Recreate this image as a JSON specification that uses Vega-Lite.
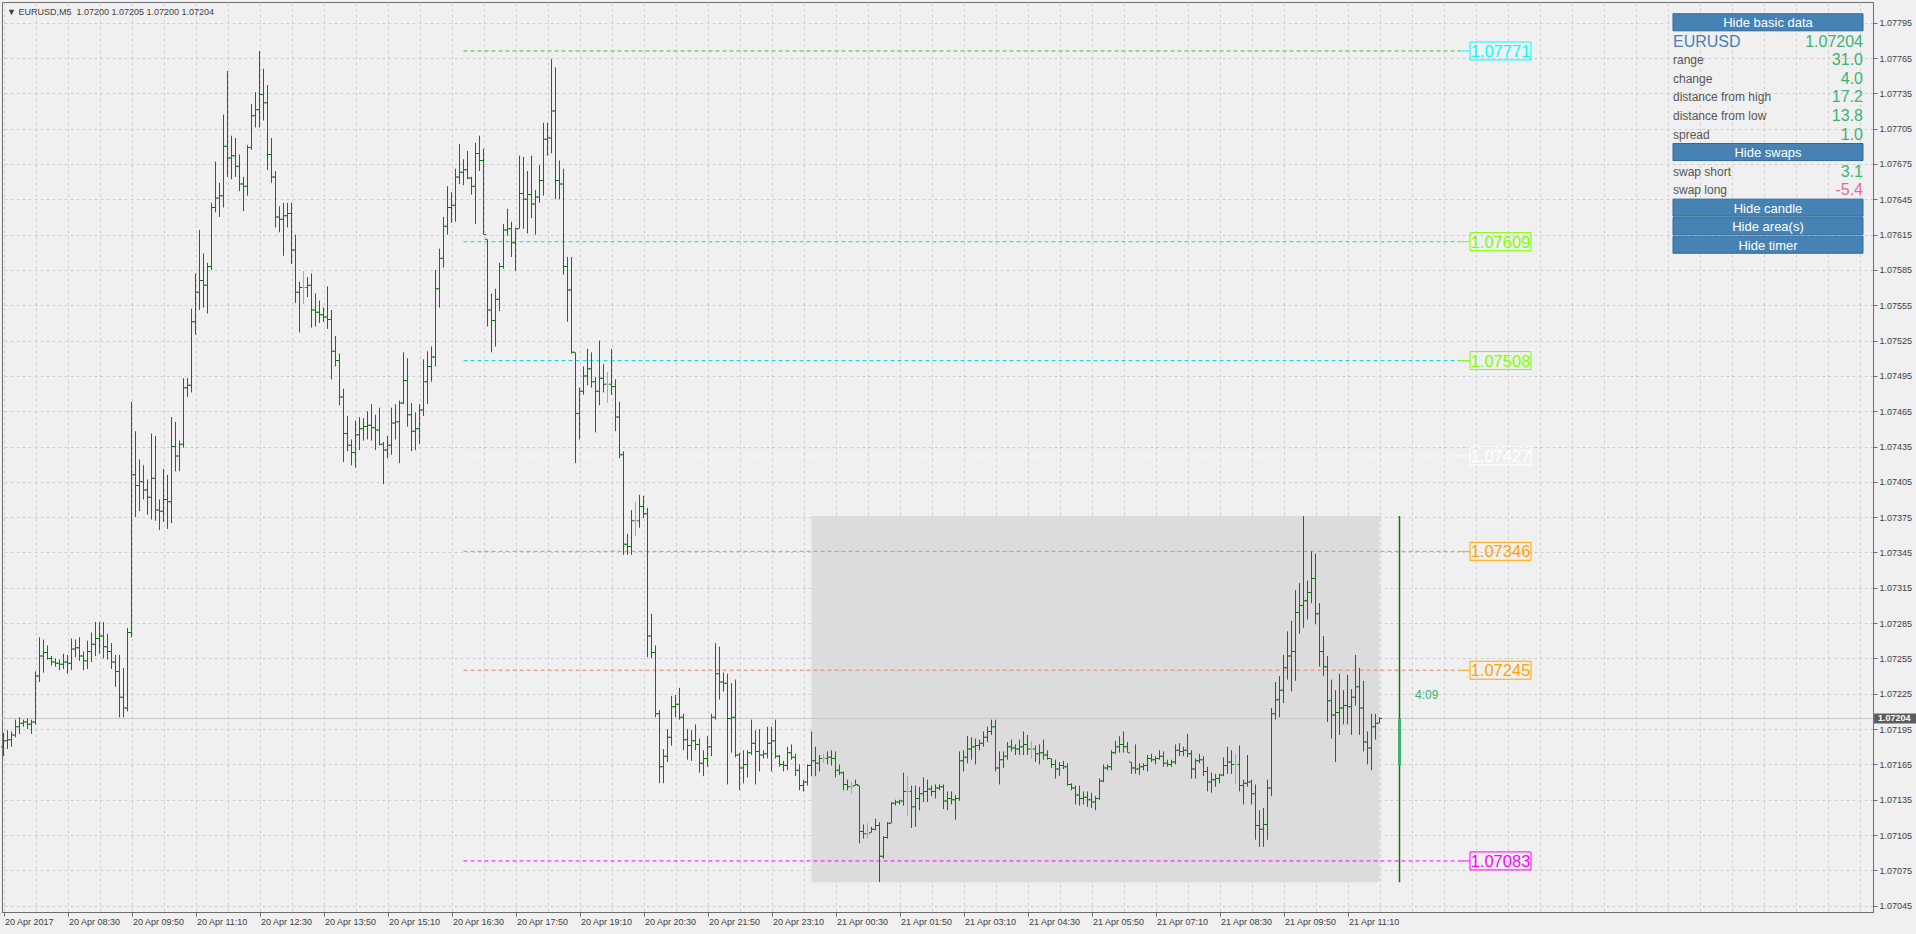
{
"$schema":"https://vega.github.io/schema/vega-lite/v6.json",
"width":1871,"height":910,
"autosize":"none",
"padding":{"left":2,"top":2,"right":43,"bottom":22},
"background":"#f0f0f0",
"config":{"font":"Liberation Sans","view":{"stroke":"#6e6e6e","strokeWidth":1},"axis":{"labelOverlap":false}},
"title":{"text":"▼ EURUSD,M5\u00a0 1.07200 1.07205 1.07200 1.07204","anchor":"start","frame":"group","orient":"top","offset":-19,"baseline":"middle","fontSize":9,"fontWeight":"normal","color":"#404040","font":"Liberation Sans","dx":5},
"datasets":{
"area":[{"from":"2017-04-21T00:00Z","to":"2017-04-21T11:50Z","high":1.07376,"low":1.07065}],
"daily":[{"t":"2017-04-21T12:15Z","o":1.07164,"h":1.07376,"l":1.07065,"c":1.07204}],
"levels":[{"name":"h1","price":1.07771},{"name":"r2","price":1.07609},{"name":"r1","price":1.07508},{"name":"p","price":1.07427},{"name":"s1","price":1.07346},{"name":"s2","price":1.07245},{"name":"l1","price":1.07083}],
"panel":[{"row":0,"kind":"button","label":"Hide basic data"},{"row":1,"kind":"symbol","label":"EURUSD","value":"1.07204"},{"row":2,"kind":"stat","label":"range","value":"31.0"},{"row":3,"kind":"stat","label":"change","value":"4.0"},{"row":4,"kind":"stat","label":"distance from high","value":"17.2"},{"row":5,"kind":"stat","label":"distance from low","value":"13.8"},{"row":6,"kind":"stat","label":"spread","value":"1.0"},{"row":7,"kind":"button","label":"Hide swaps"},{"row":8,"kind":"stat","label":"swap short","value":"3.1"},{"row":9,"kind":"neg","label":"swap long","value":"-5.4"},{"row":10,"kind":"button","label":"Hide candle"},{"row":11,"kind":"button","label":"Hide area(s)"},{"row":12,"kind":"button","label":"Hide timer"}],
"bars":[
{"t":"2017-04-20T07:10Z","o":1.07180,"h":1.07192,"l":1.07172,"c":1.07185},
{"t":"2017-04-20T07:15Z","o":1.07185,"h":1.07194,"l":1.07178,"c":1.07186},
{"t":"2017-04-20T07:20Z","o":1.07186,"h":1.07193,"l":1.07180,"c":1.07190},
{"t":"2017-04-20T07:25Z","o":1.07190,"h":1.07203,"l":1.07188,"c":1.07197},
{"t":"2017-04-20T07:30Z","o":1.07197,"h":1.07205,"l":1.07191,"c":1.07200},
{"t":"2017-04-20T07:35Z","o":1.07200,"h":1.07203,"l":1.07197,"c":1.07201},
{"t":"2017-04-20T07:40Z","o":1.07201,"h":1.07204,"l":1.07195,"c":1.07199},
{"t":"2017-04-20T07:45Z","o":1.07199,"h":1.07203,"l":1.07191,"c":1.07201},
{"t":"2017-04-20T07:50Z","o":1.07201,"h":1.07244,"l":1.07199,"c":1.07240},
{"t":"2017-04-20T07:55Z","o":1.07240,"h":1.07273,"l":1.07235,"c":1.07257},
{"t":"2017-04-20T08:00Z","o":1.07257,"h":1.07271,"l":1.07243,"c":1.07260},
{"t":"2017-04-20T08:05Z","o":1.07260,"h":1.07266,"l":1.07254,"c":1.07255},
{"t":"2017-04-20T08:10Z","o":1.07255,"h":1.07257,"l":1.07249,"c":1.07252},
{"t":"2017-04-20T08:15Z","o":1.07252,"h":1.07255,"l":1.07248,"c":1.07251},
{"t":"2017-04-20T08:20Z","o":1.07251,"h":1.07254,"l":1.07245,"c":1.07250},
{"t":"2017-04-20T08:25Z","o":1.07250,"h":1.07259,"l":1.07246,"c":1.07252},
{"t":"2017-04-20T08:30Z","o":1.07252,"h":1.07258,"l":1.07242,"c":1.07251},
{"t":"2017-04-20T08:35Z","o":1.07251,"h":1.07272,"l":1.07245,"c":1.07263},
{"t":"2017-04-20T08:40Z","o":1.07263,"h":1.07271,"l":1.07256,"c":1.07264},
{"t":"2017-04-20T08:45Z","o":1.07264,"h":1.07273,"l":1.07253,"c":1.07257},
{"t":"2017-04-20T08:50Z","o":1.07257,"h":1.07261,"l":1.07245,"c":1.07253},
{"t":"2017-04-20T08:55Z","o":1.07253,"h":1.07270,"l":1.07246,"c":1.07261},
{"t":"2017-04-20T09:00Z","o":1.07261,"h":1.07277,"l":1.07252,"c":1.07267},
{"t":"2017-04-20T09:05Z","o":1.07267,"h":1.07286,"l":1.07257,"c":1.07272},
{"t":"2017-04-20T09:10Z","o":1.07272,"h":1.07286,"l":1.07259,"c":1.07274},
{"t":"2017-04-20T09:15Z","o":1.07274,"h":1.07286,"l":1.07255,"c":1.07265},
{"t":"2017-04-20T09:20Z","o":1.07265,"h":1.07276,"l":1.07254,"c":1.07261},
{"t":"2017-04-20T09:25Z","o":1.07261,"h":1.07268,"l":1.07246,"c":1.07252},
{"t":"2017-04-20T09:30Z","o":1.07252,"h":1.07258,"l":1.07231,"c":1.07244},
{"t":"2017-04-20T09:35Z","o":1.07244,"h":1.07258,"l":1.07205,"c":1.07222},
{"t":"2017-04-20T09:40Z","o":1.07222,"h":1.07247,"l":1.07205,"c":1.07213},
{"t":"2017-04-20T09:45Z","o":1.07213,"h":1.07281,"l":1.07210,"c":1.07277},
{"t":"2017-04-20T09:50Z","o":1.07277,"h":1.07473,"l":1.07273,"c":1.07411},
{"t":"2017-04-20T09:55Z","o":1.07411,"h":1.07448,"l":1.07375,"c":1.07402},
{"t":"2017-04-20T10:00Z","o":1.07402,"h":1.07424,"l":1.07380,"c":1.07405},
{"t":"2017-04-20T10:05Z","o":1.07405,"h":1.07419,"l":1.07390,"c":1.07398},
{"t":"2017-04-20T10:10Z","o":1.07398,"h":1.07407,"l":1.07377,"c":1.07392},
{"t":"2017-04-20T10:15Z","o":1.07392,"h":1.07446,"l":1.07373,"c":1.07408},
{"t":"2017-04-20T10:20Z","o":1.07408,"h":1.07444,"l":1.07372,"c":1.07381},
{"t":"2017-04-20T10:25Z","o":1.07381,"h":1.07390,"l":1.07364,"c":1.07380},
{"t":"2017-04-20T10:30Z","o":1.07380,"h":1.07416,"l":1.07371,"c":1.07390},
{"t":"2017-04-20T10:35Z","o":1.07390,"h":1.07411,"l":1.07365,"c":1.07388},
{"t":"2017-04-20T10:40Z","o":1.07388,"h":1.07460,"l":1.07370,"c":1.07435},
{"t":"2017-04-20T10:45Z","o":1.07435,"h":1.07456,"l":1.07414,"c":1.07427},
{"t":"2017-04-20T10:50Z","o":1.07427,"h":1.07440,"l":1.07414,"c":1.07437},
{"t":"2017-04-20T10:55Z","o":1.07437,"h":1.07493,"l":1.07434,"c":1.07485},
{"t":"2017-04-20T11:00Z","o":1.07485,"h":1.07493,"l":1.07477,"c":1.07487},
{"t":"2017-04-20T11:05Z","o":1.07487,"h":1.07552,"l":1.07481,"c":1.07541},
{"t":"2017-04-20T11:10Z","o":1.07541,"h":1.07582,"l":1.07530,"c":1.07566},
{"t":"2017-04-20T11:15Z","o":1.07566,"h":1.07619,"l":1.07551,"c":1.07576},
{"t":"2017-04-20T11:20Z","o":1.07576,"h":1.07599,"l":1.07553,"c":1.07572},
{"t":"2017-04-20T11:25Z","o":1.07572,"h":1.07591,"l":1.07548,"c":1.07588},
{"t":"2017-04-20T11:30Z","o":1.07588,"h":1.07642,"l":1.07585,"c":1.07638},
{"t":"2017-04-20T11:35Z","o":1.07638,"h":1.07677,"l":1.07634,"c":1.07646},
{"t":"2017-04-20T11:40Z","o":1.07646,"h":1.07659,"l":1.07630,"c":1.07648},
{"t":"2017-04-20T11:45Z","o":1.07648,"h":1.07717,"l":1.07638,"c":1.07690},
{"t":"2017-04-20T11:50Z","o":1.07690,"h":1.07754,"l":1.07664,"c":1.07680},
{"t":"2017-04-20T11:55Z","o":1.07680,"h":1.07699,"l":1.07662,"c":1.07682},
{"t":"2017-04-20T12:00Z","o":1.07682,"h":1.07697,"l":1.07664,"c":1.07673},
{"t":"2017-04-20T12:05Z","o":1.07673,"h":1.07683,"l":1.07652,"c":1.07658},
{"t":"2017-04-20T12:10Z","o":1.07658,"h":1.07664,"l":1.07635,"c":1.07656},
{"t":"2017-04-20T12:15Z","o":1.07656,"h":1.07691,"l":1.07648,"c":1.07689},
{"t":"2017-04-20T12:20Z","o":1.07689,"h":1.07726,"l":1.07687,"c":1.07716},
{"t":"2017-04-20T12:25Z","o":1.07716,"h":1.07736,"l":1.07706,"c":1.07721},
{"t":"2017-04-20T12:30Z","o":1.07721,"h":1.07771,"l":1.07706,"c":1.07734},
{"t":"2017-04-20T12:35Z","o":1.07734,"h":1.07756,"l":1.07712,"c":1.07727},
{"t":"2017-04-20T12:40Z","o":1.07727,"h":1.07742,"l":1.07670,"c":1.07683},
{"t":"2017-04-20T12:45Z","o":1.07683,"h":1.07697,"l":1.07659,"c":1.07664},
{"t":"2017-04-20T12:50Z","o":1.07664,"h":1.07669,"l":1.07621,"c":1.07630},
{"t":"2017-04-20T12:55Z","o":1.07630,"h":1.07639,"l":1.07617,"c":1.07628},
{"t":"2017-04-20T13:00Z","o":1.07628,"h":1.07642,"l":1.07597,"c":1.07631},
{"t":"2017-04-20T13:05Z","o":1.07631,"h":1.07642,"l":1.07621,"c":1.07633},
{"t":"2017-04-20T13:10Z","o":1.07633,"h":1.07642,"l":1.07590,"c":1.07602},
{"t":"2017-04-20T13:15Z","o":1.07602,"h":1.07615,"l":1.07557,"c":1.07566},
{"t":"2017-04-20T13:20Z","o":1.07566,"h":1.07575,"l":1.07532,"c":1.07570},
{"t":"2017-04-20T13:25Z","o":1.07570,"h":1.07584,"l":1.07556,"c":1.07570},
{"t":"2017-04-20T13:30Z","o":1.07570,"h":1.07579,"l":1.07562,"c":1.07572},
{"t":"2017-04-20T13:35Z","o":1.07572,"h":1.07582,"l":1.07536,"c":1.07551},
{"t":"2017-04-20T13:40Z","o":1.07551,"h":1.07565,"l":1.07537,"c":1.07549},
{"t":"2017-04-20T13:45Z","o":1.07549,"h":1.07559,"l":1.07540,"c":1.07547},
{"t":"2017-04-20T13:50Z","o":1.07547,"h":1.07553,"l":1.07541,"c":1.07545},
{"t":"2017-04-20T13:55Z","o":1.07545,"h":1.07571,"l":1.07535,"c":1.07543},
{"t":"2017-04-20T14:00Z","o":1.07543,"h":1.07551,"l":1.07492,"c":1.07516},
{"t":"2017-04-20T14:05Z","o":1.07516,"h":1.07529,"l":1.07503,"c":1.07508},
{"t":"2017-04-20T14:10Z","o":1.07508,"h":1.07514,"l":1.07470,"c":1.07477},
{"t":"2017-04-20T14:15Z","o":1.07477,"h":1.07484,"l":1.07422,"c":1.07446},
{"t":"2017-04-20T14:20Z","o":1.07446,"h":1.07461,"l":1.07431,"c":1.07436},
{"t":"2017-04-20T14:25Z","o":1.07436,"h":1.07441,"l":1.07419,"c":1.07430},
{"t":"2017-04-20T14:30Z","o":1.07430,"h":1.07457,"l":1.07417,"c":1.07445},
{"t":"2017-04-20T14:35Z","o":1.07445,"h":1.07460,"l":1.07432,"c":1.07450},
{"t":"2017-04-20T14:40Z","o":1.07450,"h":1.07459,"l":1.07440,"c":1.07452},
{"t":"2017-04-20T14:45Z","o":1.07452,"h":1.07465,"l":1.07441,"c":1.07453},
{"t":"2017-04-20T14:50Z","o":1.07453,"h":1.07471,"l":1.07440,"c":1.07451},
{"t":"2017-04-20T14:55Z","o":1.07451,"h":1.07462,"l":1.07432,"c":1.07449},
{"t":"2017-04-20T15:00Z","o":1.07449,"h":1.07468,"l":1.07436,"c":1.07437},
{"t":"2017-04-20T15:05Z","o":1.07437,"h":1.07439,"l":1.07403,"c":1.07432},
{"t":"2017-04-20T15:10Z","o":1.07432,"h":1.07444,"l":1.07425,"c":1.07436},
{"t":"2017-04-20T15:15Z","o":1.07436,"h":1.07468,"l":1.07428,"c":1.07455},
{"t":"2017-04-20T15:20Z","o":1.07455,"h":1.07471,"l":1.07441,"c":1.07456},
{"t":"2017-04-20T15:25Z","o":1.07456,"h":1.07474,"l":1.07421,"c":1.07472},
{"t":"2017-04-20T15:30Z","o":1.07472,"h":1.07515,"l":1.07471,"c":1.07491},
{"t":"2017-04-20T15:35Z","o":1.07491,"h":1.07510,"l":1.07452,"c":1.07462},
{"t":"2017-04-20T15:40Z","o":1.07462,"h":1.07472,"l":1.07431,"c":1.07448},
{"t":"2017-04-20T15:45Z","o":1.07448,"h":1.07464,"l":1.07432,"c":1.07450},
{"t":"2017-04-20T15:50Z","o":1.07450,"h":1.07471,"l":1.07437,"c":1.07466},
{"t":"2017-04-20T15:55Z","o":1.07466,"h":1.07509,"l":1.07461,"c":1.07490},
{"t":"2017-04-20T16:00Z","o":1.07490,"h":1.07516,"l":1.07471,"c":1.07503},
{"t":"2017-04-20T16:05Z","o":1.07503,"h":1.07520,"l":1.07490,"c":1.07511},
{"t":"2017-04-20T16:10Z","o":1.07511,"h":1.07585,"l":1.07503,"c":1.07569},
{"t":"2017-04-20T16:15Z","o":1.07569,"h":1.07603,"l":1.07553,"c":1.07595},
{"t":"2017-04-20T16:20Z","o":1.07595,"h":1.07630,"l":1.07587,"c":1.07622},
{"t":"2017-04-20T16:25Z","o":1.07622,"h":1.07656,"l":1.07615,"c":1.07638},
{"t":"2017-04-20T16:30Z","o":1.07638,"h":1.07651,"l":1.07625,"c":1.07640},
{"t":"2017-04-20T16:35Z","o":1.07640,"h":1.07671,"l":1.07626,"c":1.07664},
{"t":"2017-04-20T16:40Z","o":1.07664,"h":1.07692,"l":1.07658,"c":1.07668},
{"t":"2017-04-20T16:45Z","o":1.07668,"h":1.07679,"l":1.07657,"c":1.07670},
{"t":"2017-04-20T16:50Z","o":1.07670,"h":1.07686,"l":1.07662,"c":1.07663},
{"t":"2017-04-20T16:55Z","o":1.07663,"h":1.07664,"l":1.07649,"c":1.07656},
{"t":"2017-04-20T17:00Z","o":1.07656,"h":1.07693,"l":1.07624,"c":1.07684},
{"t":"2017-04-20T17:05Z","o":1.07684,"h":1.07699,"l":1.07669,"c":1.07678},
{"t":"2017-04-20T17:10Z","o":1.07678,"h":1.07688,"l":1.07615,"c":1.07615},
{"t":"2017-04-20T17:15Z","o":1.07611,"h":1.07611,"l":1.07537,"c":1.07551},
{"t":"2017-04-20T17:20Z","o":1.07551,"h":1.07565,"l":1.07515,"c":1.07542},
{"t":"2017-04-20T17:25Z","o":1.07542,"h":1.07569,"l":1.07520,"c":1.07560},
{"t":"2017-04-20T17:30Z","o":1.07560,"h":1.07591,"l":1.07550,"c":1.07588},
{"t":"2017-04-20T17:35Z","o":1.07588,"h":1.07624,"l":1.07586,"c":1.07619},
{"t":"2017-04-20T17:40Z","o":1.07619,"h":1.07637,"l":1.07614,"c":1.07620},
{"t":"2017-04-20T17:45Z","o":1.07620,"h":1.07626,"l":1.07596,"c":1.07608},
{"t":"2017-04-20T17:50Z","o":1.07608,"h":1.07621,"l":1.07584,"c":1.07620},
{"t":"2017-04-20T17:55Z","o":1.07620,"h":1.07682,"l":1.07620,"c":1.07650},
{"t":"2017-04-20T18:00Z","o":1.07650,"h":1.07681,"l":1.07620,"c":1.07645},
{"t":"2017-04-20T18:05Z","o":1.07645,"h":1.07669,"l":1.07616,"c":1.07649},
{"t":"2017-04-20T18:10Z","o":1.07649,"h":1.07682,"l":1.07629,"c":1.07641},
{"t":"2017-04-20T18:15Z","o":1.07641,"h":1.07653,"l":1.07615,"c":1.07647},
{"t":"2017-04-20T18:20Z","o":1.07647,"h":1.07674,"l":1.07642,"c":1.07661},
{"t":"2017-04-20T18:25Z","o":1.07661,"h":1.07710,"l":1.07648,"c":1.07696},
{"t":"2017-04-20T18:30Z","o":1.07696,"h":1.07710,"l":1.07682,"c":1.07697},
{"t":"2017-04-20T18:35Z","o":1.07697,"h":1.07764,"l":1.07684,"c":1.07720},
{"t":"2017-04-20T18:40Z","o":1.07720,"h":1.07757,"l":1.07645,"c":1.07661},
{"t":"2017-04-20T18:45Z","o":1.07661,"h":1.07678,"l":1.07645,"c":1.07658},
{"t":"2017-04-20T18:50Z","o":1.07658,"h":1.07671,"l":1.07581,"c":1.07588},
{"t":"2017-04-20T18:55Z","o":1.07588,"h":1.07596,"l":1.07541,"c":1.07568},
{"t":"2017-04-20T19:00Z","o":1.07568,"h":1.07596,"l":1.07514,"c":1.07515},
{"t":"2017-04-20T19:05Z","o":1.07515,"h":1.07515,"l":1.07421,"c":1.07463},
{"t":"2017-04-20T19:10Z","o":1.07463,"h":1.07485,"l":1.07441,"c":1.07482},
{"t":"2017-04-20T19:15Z","o":1.07482,"h":1.07503,"l":1.07479,"c":1.07495},
{"t":"2017-04-20T19:20Z","o":1.07495,"h":1.07518,"l":1.07487,"c":1.07501},
{"t":"2017-04-20T19:25Z","o":1.07501,"h":1.07515,"l":1.07485,"c":1.07490},
{"t":"2017-04-20T19:30Z","o":1.07490,"h":1.07494,"l":1.07447,"c":1.07482},
{"t":"2017-04-20T19:35Z","o":1.07482,"h":1.07525,"l":1.07470,"c":1.07493},
{"t":"2017-04-20T19:40Z","o":1.07493,"h":1.07505,"l":1.07481,"c":1.07488},
{"t":"2017-04-20T19:45Z","o":1.07488,"h":1.07498,"l":1.07472,"c":1.07488},
{"t":"2017-04-20T19:50Z","o":1.07488,"h":1.07518,"l":1.07479,"c":1.07486},
{"t":"2017-04-20T19:55Z","o":1.07486,"h":1.07492,"l":1.07448,"c":1.07460},
{"t":"2017-04-20T20:00Z","o":1.07460,"h":1.07473,"l":1.07425,"c":1.07428},
{"t":"2017-04-20T20:05Z","o":1.07428,"h":1.07431,"l":1.07343,"c":1.07352},
{"t":"2017-04-20T20:10Z","o":1.07352,"h":1.07361,"l":1.07343,"c":1.07350},
{"t":"2017-04-20T20:15Z","o":1.07350,"h":1.07381,"l":1.07343,"c":1.07372},
{"t":"2017-04-20T20:20Z","o":1.07372,"h":1.07388,"l":1.07359,"c":1.07372},
{"t":"2017-04-20T20:25Z","o":1.07372,"h":1.07394,"l":1.07366,"c":1.07384},
{"t":"2017-04-20T20:30Z","o":1.07384,"h":1.07393,"l":1.07374,"c":1.07378},
{"t":"2017-04-20T20:35Z","o":1.07378,"h":1.07383,"l":1.07256,"c":1.07274},
{"t":"2017-04-20T20:40Z","o":1.07274,"h":1.07293,"l":1.07255,"c":1.07260},
{"t":"2017-04-20T20:45Z","o":1.07260,"h":1.07266,"l":1.07205,"c":1.07208},
{"t":"2017-04-20T20:50Z","o":1.07208,"h":1.07211,"l":1.07149,"c":1.07163},
{"t":"2017-04-20T20:55Z","o":1.07163,"h":1.07178,"l":1.07149,"c":1.07172},
{"t":"2017-04-20T21:00Z","o":1.07172,"h":1.07195,"l":1.07167,"c":1.07188},
{"t":"2017-04-20T21:05Z","o":1.07188,"h":1.07223,"l":1.07181,"c":1.07214},
{"t":"2017-04-20T21:10Z","o":1.07214,"h":1.07224,"l":1.07205,"c":1.07216},
{"t":"2017-04-20T21:15Z","o":1.07216,"h":1.07230,"l":1.07203,"c":1.07205},
{"t":"2017-04-20T21:20Z","o":1.07205,"h":1.07208,"l":1.07177,"c":1.07186},
{"t":"2017-04-20T21:25Z","o":1.07186,"h":1.07195,"l":1.07169,"c":1.07181},
{"t":"2017-04-20T21:30Z","o":1.07181,"h":1.07194,"l":1.07168,"c":1.07185},
{"t":"2017-04-20T21:35Z","o":1.07185,"h":1.07199,"l":1.07177,"c":1.07182},
{"t":"2017-04-20T21:40Z","o":1.07182,"h":1.07187,"l":1.07158,"c":1.07166},
{"t":"2017-04-20T21:45Z","o":1.07166,"h":1.07177,"l":1.07155,"c":1.07170},
{"t":"2017-04-20T21:50Z","o":1.07170,"h":1.07189,"l":1.07163,"c":1.07180},
{"t":"2017-04-20T21:55Z","o":1.07180,"h":1.07208,"l":1.07172,"c":1.07205},
{"t":"2017-04-20T22:00Z","o":1.07205,"h":1.07268,"l":1.07203,"c":1.07242},
{"t":"2017-04-20T22:05Z","o":1.07242,"h":1.07265,"l":1.07220,"c":1.07235},
{"t":"2017-04-20T22:10Z","o":1.07235,"h":1.07243,"l":1.07227,"c":1.07234},
{"t":"2017-04-20T22:15Z","o":1.07234,"h":1.07242,"l":1.07148,"c":1.07204},
{"t":"2017-04-20T22:20Z","o":1.07204,"h":1.07234,"l":1.07175,"c":1.07205},
{"t":"2017-04-20T22:25Z","o":1.07205,"h":1.07237,"l":1.07171,"c":1.07173},
{"t":"2017-04-20T22:30Z","o":1.07173,"h":1.07175,"l":1.07143,"c":1.07162},
{"t":"2017-04-20T22:35Z","o":1.07162,"h":1.07177,"l":1.07149,"c":1.07165},
{"t":"2017-04-20T22:40Z","o":1.07165,"h":1.07177,"l":1.07154,"c":1.07175},
{"t":"2017-04-20T22:45Z","o":1.07175,"h":1.07203,"l":1.07173,"c":1.07183},
{"t":"2017-04-20T22:50Z","o":1.07183,"h":1.07194,"l":1.07148,"c":1.07176},
{"t":"2017-04-20T22:55Z","o":1.07176,"h":1.07195,"l":1.07159,"c":1.07173},
{"t":"2017-04-20T23:00Z","o":1.07173,"h":1.07177,"l":1.07170,"c":1.07174},
{"t":"2017-04-20T23:05Z","o":1.07174,"h":1.07197,"l":1.07170,"c":1.07183},
{"t":"2017-04-20T23:10Z","o":1.07183,"h":1.07197,"l":1.07159,"c":1.07185},
{"t":"2017-04-20T23:15Z","o":1.07185,"h":1.07203,"l":1.07170,"c":1.07172},
{"t":"2017-04-20T23:20Z","o":1.07172,"h":1.07173,"l":1.07163,"c":1.07165},
{"t":"2017-04-20T23:25Z","o":1.07165,"h":1.07168,"l":1.07159,"c":1.07164},
{"t":"2017-04-20T23:30Z","o":1.07164,"h":1.07180,"l":1.07160,"c":1.07175},
{"t":"2017-04-20T23:35Z","o":1.07175,"h":1.07182,"l":1.07169,"c":1.07171},
{"t":"2017-04-20T23:40Z","o":1.07171,"h":1.07174,"l":1.07155,"c":1.07160},
{"t":"2017-04-20T23:45Z","o":1.07160,"h":1.07165,"l":1.07143,"c":1.07147},
{"t":"2017-04-20T23:50Z","o":1.07147,"h":1.07152,"l":1.07142,"c":1.07150},
{"t":"2017-04-20T23:55Z","o":1.07150,"h":1.07165,"l":1.07147,"c":1.07164},
{"t":"2017-04-21T00:00Z","o":1.07164,"h":1.07193,"l":1.07155,"c":1.07168},
{"t":"2017-04-21T00:05Z","o":1.07168,"h":1.07180,"l":1.07155,"c":1.07166},
{"t":"2017-04-21T00:10Z","o":1.07166,"h":1.07173,"l":1.07159,"c":1.07170},
{"t":"2017-04-21T00:15Z","o":1.07170,"h":1.07174,"l":1.07166,"c":1.07170},
{"t":"2017-04-21T00:20Z","o":1.07170,"h":1.07176,"l":1.07165,"c":1.07171},
{"t":"2017-04-21T00:25Z","o":1.07171,"h":1.07177,"l":1.07164,"c":1.07170},
{"t":"2017-04-21T00:30Z","o":1.07170,"h":1.07176,"l":1.07154,"c":1.07160},
{"t":"2017-04-21T00:35Z","o":1.07160,"h":1.07165,"l":1.07156,"c":1.07158},
{"t":"2017-04-21T00:40Z","o":1.07158,"h":1.07159,"l":1.07143,"c":1.07148},
{"t":"2017-04-21T00:45Z","o":1.07148,"h":1.07152,"l":1.07143,"c":1.07146},
{"t":"2017-04-21T00:50Z","o":1.07146,"h":1.07150,"l":1.07140,"c":1.07146},
{"t":"2017-04-21T00:55Z","o":1.07147,"h":1.07152,"l":1.07147,"c":1.07148},
{"t":"2017-04-21T01:00Z","o":1.07147,"h":1.07147,"l":1.07098,"c":1.07108},
{"t":"2017-04-21T01:05Z","o":1.07108,"h":1.07114,"l":1.07102,"c":1.07106},
{"t":"2017-04-21T01:10Z","o":1.07106,"h":1.07115,"l":1.07102,"c":1.07106},
{"t":"2017-04-21T01:15Z","o":1.07107,"h":1.07112,"l":1.07107,"c":1.07110},
{"t":"2017-04-21T01:20Z","o":1.07110,"h":1.07119,"l":1.07109,"c":1.07113},
{"t":"2017-04-21T01:25Z","o":1.07113,"h":1.07116,"l":1.07065,"c":1.07087},
{"t":"2017-04-21T01:30Z","o":1.07087,"h":1.07104,"l":1.07085,"c":1.07103},
{"t":"2017-04-21T01:35Z","o":1.07103,"h":1.07116,"l":1.07102,"c":1.07115},
{"t":"2017-04-21T01:40Z","o":1.07115,"h":1.07133,"l":1.07115,"c":1.07132},
{"t":"2017-04-21T01:45Z","o":1.07132,"h":1.07135,"l":1.07130,"c":1.07133},
{"t":"2017-04-21T01:50Z","o":1.07133,"h":1.07135,"l":1.07131,"c":1.07134},
{"t":"2017-04-21T01:55Z","o":1.07134,"h":1.07158,"l":1.07130,"c":1.07142},
{"t":"2017-04-21T02:00Z","o":1.07142,"h":1.07155,"l":1.07121,"c":1.07142},
{"t":"2017-04-21T02:05Z","o":1.07142,"h":1.07147,"l":1.07111,"c":1.07129},
{"t":"2017-04-21T02:10Z","o":1.07129,"h":1.07147,"l":1.07112,"c":1.07136},
{"t":"2017-04-21T02:15Z","o":1.07136,"h":1.07146,"l":1.07126,"c":1.07140},
{"t":"2017-04-21T02:20Z","o":1.07140,"h":1.07154,"l":1.07133,"c":1.07142},
{"t":"2017-04-21T02:25Z","o":1.07142,"h":1.07152,"l":1.07133,"c":1.07144},
{"t":"2017-04-21T02:30Z","o":1.07144,"h":1.07147,"l":1.07138,"c":1.07142},
{"t":"2017-04-21T02:35Z","o":1.07142,"h":1.07148,"l":1.07136,"c":1.07145},
{"t":"2017-04-21T02:40Z","o":1.07145,"h":1.07148,"l":1.07143,"c":1.07146},
{"t":"2017-04-21T02:45Z","o":1.07146,"h":1.07148,"l":1.07127,"c":1.07134},
{"t":"2017-04-21T02:50Z","o":1.07134,"h":1.07142,"l":1.07126,"c":1.07136},
{"t":"2017-04-21T02:55Z","o":1.07136,"h":1.07142,"l":1.07131,"c":1.07135},
{"t":"2017-04-21T03:00Z","o":1.07135,"h":1.07139,"l":1.07118,"c":1.07136},
{"t":"2017-04-21T03:05Z","o":1.07136,"h":1.07176,"l":1.07134,"c":1.07168},
{"t":"2017-04-21T03:10Z","o":1.07168,"h":1.07177,"l":1.07159,"c":1.07171},
{"t":"2017-04-21T03:15Z","o":1.07171,"h":1.07189,"l":1.07166,"c":1.07178},
{"t":"2017-04-21T03:20Z","o":1.07178,"h":1.07188,"l":1.07169,"c":1.07180},
{"t":"2017-04-21T03:25Z","o":1.07180,"h":1.07187,"l":1.07165,"c":1.07181},
{"t":"2017-04-21T03:30Z","o":1.07181,"h":1.07186,"l":1.07177,"c":1.07183},
{"t":"2017-04-21T03:35Z","o":1.07183,"h":1.07193,"l":1.07180,"c":1.07188},
{"t":"2017-04-21T03:40Z","o":1.07188,"h":1.07197,"l":1.07184,"c":1.07193},
{"t":"2017-04-21T03:45Z","o":1.07193,"h":1.07203,"l":1.07190,"c":1.07197},
{"t":"2017-04-21T03:50Z","o":1.07197,"h":1.07203,"l":1.07159,"c":1.07162},
{"t":"2017-04-21T03:55Z","o":1.07162,"h":1.07176,"l":1.07148,"c":1.07169},
{"t":"2017-04-21T04:00Z","o":1.07169,"h":1.07176,"l":1.07162,"c":1.07172},
{"t":"2017-04-21T04:05Z","o":1.07172,"h":1.07184,"l":1.07169,"c":1.07180},
{"t":"2017-04-21T04:10Z","o":1.07180,"h":1.07186,"l":1.07176,"c":1.07179},
{"t":"2017-04-21T04:15Z","o":1.07179,"h":1.07182,"l":1.07173,"c":1.07178},
{"t":"2017-04-21T04:20Z","o":1.07178,"h":1.07186,"l":1.07173,"c":1.07180},
{"t":"2017-04-21T04:25Z","o":1.07180,"h":1.07193,"l":1.07173,"c":1.07182},
{"t":"2017-04-21T04:30Z","o":1.07182,"h":1.07190,"l":1.07173,"c":1.07178},
{"t":"2017-04-21T04:35Z","o":1.07178,"h":1.07185,"l":1.07170,"c":1.07178},
{"t":"2017-04-21T04:40Z","o":1.07178,"h":1.07181,"l":1.07167,"c":1.07174},
{"t":"2017-04-21T04:45Z","o":1.07174,"h":1.07182,"l":1.07165,"c":1.07175},
{"t":"2017-04-21T04:50Z","o":1.07175,"h":1.07186,"l":1.07169,"c":1.07173},
{"t":"2017-04-21T04:55Z","o":1.07173,"h":1.07177,"l":1.07169,"c":1.07170},
{"t":"2017-04-21T05:00Z","o":1.07170,"h":1.07170,"l":1.07162,"c":1.07165},
{"t":"2017-04-21T05:05Z","o":1.07165,"h":1.07169,"l":1.07153,"c":1.07161},
{"t":"2017-04-21T05:10Z","o":1.07161,"h":1.07167,"l":1.07155,"c":1.07164},
{"t":"2017-04-21T05:15Z","o":1.07164,"h":1.07168,"l":1.07161,"c":1.07163},
{"t":"2017-04-21T05:20Z","o":1.07163,"h":1.07166,"l":1.07147,"c":1.07148},
{"t":"2017-04-21T05:25Z","o":1.07148,"h":1.07149,"l":1.07143,"c":1.07145},
{"t":"2017-04-21T05:30Z","o":1.07145,"h":1.07147,"l":1.07131,"c":1.07139},
{"t":"2017-04-21T05:35Z","o":1.07139,"h":1.07147,"l":1.07130,"c":1.07136},
{"t":"2017-04-21T05:40Z","o":1.07136,"h":1.07142,"l":1.07131,"c":1.07137},
{"t":"2017-04-21T05:45Z","o":1.07137,"h":1.07142,"l":1.07129,"c":1.07135},
{"t":"2017-04-21T05:50Z","o":1.07135,"h":1.07141,"l":1.07128,"c":1.07133},
{"t":"2017-04-21T05:55Z","o":1.07133,"h":1.07138,"l":1.07126,"c":1.07136},
{"t":"2017-04-21T06:00Z","o":1.07136,"h":1.07153,"l":1.07135,"c":1.07151},
{"t":"2017-04-21T06:05Z","o":1.07151,"h":1.07165,"l":1.07150,"c":1.07162},
{"t":"2017-04-21T06:10Z","o":1.07162,"h":1.07165,"l":1.07160,"c":1.07163},
{"t":"2017-04-21T06:15Z","o":1.07163,"h":1.07177,"l":1.07160,"c":1.07175},
{"t":"2017-04-21T06:20Z","o":1.07175,"h":1.07185,"l":1.07174,"c":1.07180},
{"t":"2017-04-21T06:25Z","o":1.07180,"h":1.07189,"l":1.07175,"c":1.07182},
{"t":"2017-04-21T06:30Z","o":1.07182,"h":1.07193,"l":1.07175,"c":1.07180},
{"t":"2017-04-21T06:35Z","o":1.07180,"h":1.07184,"l":1.07175,"c":1.07175},
{"t":"2017-04-21T06:40Z","o":1.07167,"h":1.07167,"l":1.07157,"c":1.07162},
{"t":"2017-04-21T06:45Z","o":1.07162,"h":1.07182,"l":1.07157,"c":1.07161},
{"t":"2017-04-21T06:50Z","o":1.07161,"h":1.07166,"l":1.07156,"c":1.07163},
{"t":"2017-04-21T06:55Z","o":1.07163,"h":1.07166,"l":1.07160,"c":1.07164},
{"t":"2017-04-21T07:00Z","o":1.07164,"h":1.07173,"l":1.07159,"c":1.07170},
{"t":"2017-04-21T07:05Z","o":1.07170,"h":1.07174,"l":1.07167,"c":1.07169},
{"t":"2017-04-21T07:10Z","o":1.07169,"h":1.07172,"l":1.07165,"c":1.07170},
{"t":"2017-04-21T07:15Z","o":1.07170,"h":1.07177,"l":1.07169,"c":1.07172},
{"t":"2017-04-21T07:20Z","o":1.07172,"h":1.07176,"l":1.07163,"c":1.07166},
{"t":"2017-04-21T07:25Z","o":1.07166,"h":1.07169,"l":1.07163,"c":1.07165},
{"t":"2017-04-21T07:30Z","o":1.07165,"h":1.07169,"l":1.07163,"c":1.07167},
{"t":"2017-04-21T07:35Z","o":1.07167,"h":1.07182,"l":1.07165,"c":1.07177},
{"t":"2017-04-21T07:40Z","o":1.07177,"h":1.07183,"l":1.07172,"c":1.07176},
{"t":"2017-04-21T07:45Z","o":1.07176,"h":1.07180,"l":1.07172,"c":1.07177},
{"t":"2017-04-21T07:50Z","o":1.07177,"h":1.07191,"l":1.07171,"c":1.07174},
{"t":"2017-04-21T07:55Z","o":1.07174,"h":1.07177,"l":1.07153,"c":1.07161},
{"t":"2017-04-21T08:00Z","o":1.07161,"h":1.07170,"l":1.07153,"c":1.07168},
{"t":"2017-04-21T08:05Z","o":1.07168,"h":1.07174,"l":1.07166,"c":1.07169},
{"t":"2017-04-21T08:10Z","o":1.07169,"h":1.07172,"l":1.07155,"c":1.07159},
{"t":"2017-04-21T08:15Z","o":1.07159,"h":1.07163,"l":1.07142,"c":1.07150},
{"t":"2017-04-21T08:20Z","o":1.07150,"h":1.07158,"l":1.07141,"c":1.07152},
{"t":"2017-04-21T08:25Z","o":1.07152,"h":1.07157,"l":1.07146,"c":1.07153},
{"t":"2017-04-21T08:30Z","o":1.07153,"h":1.07157,"l":1.07149,"c":1.07156},
{"t":"2017-04-21T08:35Z","o":1.07156,"h":1.07171,"l":1.07155,"c":1.07164},
{"t":"2017-04-21T08:40Z","o":1.07164,"h":1.07180,"l":1.07157,"c":1.07167},
{"t":"2017-04-21T08:45Z","o":1.07167,"h":1.07177,"l":1.07157,"c":1.07165},
{"t":"2017-04-21T08:50Z","o":1.07165,"h":1.07174,"l":1.07148,"c":1.07165},
{"t":"2017-04-21T08:55Z","o":1.07165,"h":1.07181,"l":1.07142,"c":1.07147},
{"t":"2017-04-21T09:00Z","o":1.07147,"h":1.07152,"l":1.07131,"c":1.07149},
{"t":"2017-04-21T09:05Z","o":1.07149,"h":1.07173,"l":1.07146,"c":1.07150},
{"t":"2017-04-21T09:10Z","o":1.07150,"h":1.07152,"l":1.07131,"c":1.07140},
{"t":"2017-04-21T09:15Z","o":1.07140,"h":1.07148,"l":1.07101,"c":1.07113},
{"t":"2017-04-21T09:20Z","o":1.07113,"h":1.07126,"l":1.07095,"c":1.07110},
{"t":"2017-04-21T09:25Z","o":1.07110,"h":1.07128,"l":1.07095,"c":1.07114},
{"t":"2017-04-21T09:30Z","o":1.07114,"h":1.07152,"l":1.07101,"c":1.07145},
{"t":"2017-04-21T09:35Z","o":1.07145,"h":1.07213,"l":1.07138,"c":1.07208},
{"t":"2017-04-21T09:40Z","o":1.07208,"h":1.07235,"l":1.07203,"c":1.07220},
{"t":"2017-04-21T09:45Z","o":1.07220,"h":1.07240,"l":1.07205,"c":1.07228},
{"t":"2017-04-21T09:50Z","o":1.07228,"h":1.07258,"l":1.07217,"c":1.07247},
{"t":"2017-04-21T09:55Z","o":1.07247,"h":1.07278,"l":1.07237,"c":1.07257},
{"t":"2017-04-21T10:00Z","o":1.07257,"h":1.07287,"l":1.07227,"c":1.07261},
{"t":"2017-04-21T10:05Z","o":1.07261,"h":1.07313,"l":1.07236,"c":1.07294},
{"t":"2017-04-21T10:10Z","o":1.07294,"h":1.07319,"l":1.07276,"c":1.07300},
{"t":"2017-04-21T10:15Z","o":1.07300,"h":1.07376,"l":1.07281,"c":1.07304},
{"t":"2017-04-21T10:20Z","o":1.07304,"h":1.07321,"l":1.07288,"c":1.07311},
{"t":"2017-04-21T10:25Z","o":1.07311,"h":1.07346,"l":1.07302,"c":1.07323},
{"t":"2017-04-21T10:30Z","o":1.07323,"h":1.07344,"l":1.07284,"c":1.07293},
{"t":"2017-04-21T10:35Z","o":1.07293,"h":1.07302,"l":1.07248,"c":1.07261},
{"t":"2017-04-21T10:40Z","o":1.07261,"h":1.07274,"l":1.07240,"c":1.07248},
{"t":"2017-04-21T10:45Z","o":1.07248,"h":1.07257,"l":1.07201,"c":1.07219},
{"t":"2017-04-21T10:50Z","o":1.07219,"h":1.07237,"l":1.07187,"c":1.07207},
{"t":"2017-04-21T10:55Z","o":1.07207,"h":1.07228,"l":1.07167,"c":1.07209},
{"t":"2017-04-21T11:00Z","o":1.07209,"h":1.07242,"l":1.07190,"c":1.07213},
{"t":"2017-04-21T11:05Z","o":1.07213,"h":1.07228,"l":1.07199,"c":1.07215},
{"t":"2017-04-21T11:10Z","o":1.07215,"h":1.07241,"l":1.07199,"c":1.07214},
{"t":"2017-04-21T11:15Z","o":1.07214,"h":1.07229,"l":1.07190,"c":1.07222},
{"t":"2017-04-21T11:20Z","o":1.07222,"h":1.07258,"l":1.07215,"c":1.07231},
{"t":"2017-04-21T11:25Z","o":1.07231,"h":1.07247,"l":1.07190,"c":1.07213},
{"t":"2017-04-21T11:30Z","o":1.07213,"h":1.07236,"l":1.07176,"c":1.07184},
{"t":"2017-04-21T11:35Z","o":1.07184,"h":1.07193,"l":1.07165,"c":1.07179},
{"t":"2017-04-21T11:40Z","o":1.07179,"h":1.07208,"l":1.07160,"c":1.07197},
{"t":"2017-04-21T11:45Z","o":1.07197,"h":1.07208,"l":1.07186,"c":1.07200},
{"t":"2017-04-21T11:50Z","o":1.07200,"h":1.07205,"l":1.07200,"c":1.07204}
]},
"layer":[
{"layer":[
 {"data":{"name":"area"},"mark":{"type":"rect","fill":"#dcdcdc"},
  "encoding":{
   "x":{"field":"from","type":"temporal","scale":{"type":"utc","domain":[1492672087500,1492812412500]},
     "axis":{"title":null,"tickCount":200,"values":[1492672200000,1492674600000,1492677000000,1492679400000,1492681800000,1492684200000,1492686600000,1492689000000,1492691400000,1492693800000,1492696200000,1492698600000,1492701000000,1492703400000,1492705800000,1492708200000,1492710600000,1492713000000,1492715400000,1492717800000,1492720200000,1492722600000,1492725000000,1492727400000,1492729800000,1492732200000,1492734600000,1492737000000,1492739400000,1492741800000,1492744200000,1492746600000,1492749000000,1492751400000,1492753800000,1492756200000,1492758600000,1492761000000,1492763400000,1492765800000,1492768200000,1492770600000,1492773000000,1492775400000,1492777800000,1492780200000,1492782600000,1492785000000,1492787400000,1492789800000,1492792200000,1492794600000,1492797000000,1492799400000,1492801800000,1492804200000,1492806600000,1492809000000,1492811400000],
       "grid":true,"gridColor":"#cfcfcf","gridDash":[3,3],"gridWidth":1,
       "domain":true,"domainColor":"#6e6e6e","domainWidth":1,
       "ticks":true,"tickSize":4,"tickColor":"#6e6e6e",
       "tickOpacity":{"condition":{"test":"(datum.value - 1492672200000) % 4800000 == 0 && datum.value - 1492773000000 <= 0","value":1},"value":0},
       "labelExpr":"(datum.value - 1492672200000) % 4800000 != 0 || datum.value - 1492773000000 > 0 ? '' : (datum.value - 1492672200000 == 0 ? '20 Apr 2017' : utcFormat(datum.value, '%d %b %H:%M'))",
       "labelAlign":"left","labelBaseline":"top","labelPadding":1,"labelOffset":1,"labelFontSize":9,"labelColor":"#404040","labelFont":"Liberation Sans","labelOverlap":false,"labelFlush":false,"labelBound":false}},
   "x2":{"field":"to"},
   "y":{"field":"low","type":"quantitative","scale":{"domain":[1.0703963,1.0781258],"zero":false,"nice":false},
     "axis":{"title":null,"orient":"right","tickCount":200,"values":[1.07045,1.07075,1.07105,1.07135,1.07165,1.07195,1.07225,1.07255,1.07285,1.07315,1.07345,1.07375,1.07405,1.07435,1.07465,1.07495,1.07525,1.07555,1.07585,1.07615,1.07645,1.07675,1.07705,1.07735,1.07765,1.07795],
       "format":".5f","grid":true,"gridColor":"#cfcfcf","gridDash":[3,3],"gridWidth":1,
       "domain":true,"domainColor":"#6e6e6e","domainWidth":1,"ticks":true,"tickSize":4,"tickColor":"#6e6e6e",
       "labelPadding":2,"labelFontSize":9,"labelColor":"#404040","labelFont":"Liberation Sans","labelOverlap":false,"labelFlush":false,"labelBound":false}},
   "y2":{"field":"high"}}},
 {"data":{"name":"daily"},"mark":{"type":"rule","color":"#c8c8c8","strokeWidth":1},
  "encoding":{"y":{"field":"c","type":"quantitative","scale":{"domain":[1.0703963,1.0781258],"zero":false,"nice":false}}}},
 {"data":{"name":"levels"},"mark":{"type":"rule","strokeDash":[4,3],"strokeWidth":1},
  "encoding":{
   "x":{"datum":{"year":2017,"month":4,"date":20,"hours":16,"minutes":45,"utc":true},"type":"temporal","scale":{"type":"utc","domain":[1492672087500,1492812412500]}},
   "x2":{"datum":{"year":2017,"month":4,"date":21,"hours":13,"minutes":30,"utc":true}},
   "y":{"field":"price","type":"quantitative","scale":{"domain":[1.0703963,1.0781258],"zero":false,"nice":false}},
   "stroke":{"field":"name","type":"nominal","scale":{"domain":["h1","r2","r1","p","s1","s2","l1"],"range":["#33cc33","#00e0e0","#00e0e0","#ffffff","#f08070","#f08070","#ff00ff"]},"legend":null}}},
 {"data":{"name":"levels"},"mark":{"type":"rule","strokeWidth":1},
  "encoding":{
   "x":{"datum":{"year":2017,"month":4,"date":21,"hours":13,"minutes":30,"utc":true},"type":"temporal","scale":{"type":"utc","domain":[1492672087500,1492812412500]}},
   "x2":{"datum":{"year":2017,"month":4,"date":21,"hours":13,"minutes":43,"utc":true}},
   "y":{"field":"price","type":"quantitative","scale":{"domain":[1.0703963,1.0781258],"zero":false,"nice":false}},
   "color":{"field":"name","type":"nominal","scale":{"domain":["h1","r2","r1","p","s1","s2","l1"],"range":["#00ffff","#7fff00","#7fff00","#ffffff","#ffa500","#ffa500","#ff00ff"]},"legend":null}}},
 {"data":{"name":"levels"},"mark":{"type":"point","shape":"M-1,-0.295H1V0.295H-1Z","size":3721,"filled":false,"strokeWidth":1,"opacity":1},
  "encoding":{
   "x":{"datum":{"year":2017,"month":4,"date":21,"hours":14,"minutes":21,"seconds":15,"utc":true},"type":"temporal","scale":{"type":"utc","domain":[1492672087500,1492812412500]}},
   "y":{"field":"price","type":"quantitative","scale":{"domain":[1.0703963,1.0781258],"zero":false,"nice":false}},
   "color":{"field":"name","type":"nominal","scale":{"domain":["h1","r2","r1","p","s1","s2","l1"],"range":["#00ffff","#7fff00","#7fff00","#ffffff","#ffa500","#ffa500","#ff00ff"]},"legend":null}}},
 {"data":{"name":"levels"},"mark":{"type":"text","fontSize":16.5,"font":"Liberation Sans","align":"center","baseline":"middle","dy":1},
  "encoding":{
   "x":{"datum":{"year":2017,"month":4,"date":21,"hours":14,"minutes":21,"seconds":15,"utc":true},"type":"temporal","scale":{"type":"utc","domain":[1492672087500,1492812412500]}},
   "y":{"field":"price","type":"quantitative","scale":{"domain":[1.0703963,1.0781258],"zero":false,"nice":false}},
   "text":{"field":"price","type":"quantitative","format":".5f"},
   "color":{"field":"name","type":"nominal","scale":{"domain":["h1","r2","r1","p","s1","s2","l1"],"range":["#00ffff","#7fff00","#7fff00","#ffffff","#ffa500","#ffa500","#ff00ff"]},"legend":null}}},
 {"data":{"name":"bars"},"mark":{"type":"rule","strokeWidth":1},
  "encoding":{
   "x":{"field":"t","type":"temporal","scale":{"type":"utc","domain":[1492672087500,1492812412500]}},
   "y":{"field":"l","type":"quantitative","scale":{"domain":[1.0703963,1.0781258],"zero":false,"nice":false}},
   "y2":{"field":"h"},
   "color":{"condition":{"test":"datum.o == datum.c","value":"#a8a8a8"},"value":"#0b7a0b"}}},
 {"data":{"name":"bars"},"mark":{"type":"tick","orient":"horizontal","size":2,"thickness":1,"xOffset":-1.5,"opacity":1},
  "encoding":{
   "x":{"field":"t","type":"temporal","scale":{"type":"utc","domain":[1492672087500,1492812412500]}},
   "y":{"field":"o","type":"quantitative","scale":{"domain":[1.0703963,1.0781258],"zero":false,"nice":false}},
   "color":{"condition":{"test":"datum.o == datum.c","value":"#a8a8a8"},"value":"#0b7a0b"}}},
 {"data":{"name":"bars"},"mark":{"type":"tick","orient":"horizontal","size":2,"thickness":1,"xOffset":1.5,"opacity":1},
  "encoding":{
   "x":{"field":"t","type":"temporal","scale":{"type":"utc","domain":[1492672087500,1492812412500]}},
   "y":{"field":"c","type":"quantitative","scale":{"domain":[1.0703963,1.0781258],"zero":false,"nice":false}},
   "color":{"condition":{"test":"datum.o == datum.c","value":"#a8a8a8"},"value":"#0b7a0b"}}},
 {"data":{"name":"daily"},"mark":{"type":"rule","strokeWidth":1.5,"color":"#0b7a0b"},
  "encoding":{
   "x":{"field":"t","type":"temporal","scale":{"type":"utc","domain":[1492672087500,1492812412500]}},
   "y":{"field":"l","type":"quantitative","scale":{"domain":[1.0703963,1.0781258],"zero":false,"nice":false}},
   "y2":{"field":"h"}}},
 {"data":{"name":"daily"},"mark":{"type":"rule","strokeWidth":3,"color":"#3cb371"},
  "encoding":{
   "x":{"field":"t","type":"temporal","scale":{"type":"utc","domain":[1492672087500,1492812412500]}},
   "y":{"field":"o","type":"quantitative","scale":{"domain":[1.0703963,1.0781258],"zero":false,"nice":false}},
   "y2":{"field":"c"}}},
 {"data":{"name":"daily"},"mark":{"type":"text","text":"4:09","fontSize":12,"color":"#3cb371","align":"center","baseline":"middle","font":"Liberation Sans"},
  "encoding":{
   "x":{"datum":{"year":2017,"month":4,"date":21,"hours":12,"minutes":49,"utc":true},"type":"temporal","scale":{"type":"utc","domain":[1492672087500,1492812412500]}},
   "y":{"datum":1.07224,"type":"quantitative","scale":{"domain":[1.0703963,1.0781258],"zero":false,"nice":false}}}},
 {"data":{"name":"daily"},"mark":{"type":"point","shape":"M-1,-0.24H1V0.24H-1Z","size":1764,"filled":true,"color":"#5c5c5c","opacity":1},
  "encoding":{
   "x":{"datum":{"year":2017,"month":4,"date":21,"hours":22,"minutes":34,"seconds":30,"utc":true},"type":"temporal","scale":{"type":"utc","domain":[1492672087500,1492812412500]}},
   "y":{"field":"c","type":"quantitative","scale":{"domain":[1.0703963,1.0781258],"zero":false,"nice":false}}}},
 {"data":{"name":"daily"},"mark":{"type":"text","fontSize":9,"fontWeight":"bold","color":"#ffffff","align":"left","baseline":"middle","font":"Liberation Sans"},
  "encoding":{
   "x":{"datum":{"year":2017,"month":4,"date":21,"hours":22,"minutes":13,"utc":true},"type":"temporal","scale":{"type":"utc","domain":[1492672087500,1492812412500]}},
   "y":{"field":"c","type":"quantitative","scale":{"domain":[1.0703963,1.0781258],"zero":false,"nice":false}},
   "text":{"field":"c","type":"quantitative","format":".5f"}}}
]},
{"data":{"name":"panel"},
 "layer":[
  {"transform":[{"filter":"datum.kind == 'button'"}],
   "mark":{"type":"rect","fill":"#4682b4","stroke":"#2f6a9c","strokeWidth":1},
   "encoding":{
    "x":{"datum":0,"type":"quantitative","scale":{"domain":[0,1],"range":[1671,1861]},"axis":null},
    "x2":{"datum":1},
    "y":{"field":"row","type":"ordinal","scale":{"domain":[0,1,2,3,4,5,6,7,8,9,10,11,12],"range":[11,252],"paddingInner":0.08,"paddingOuter":0.04},"axis":null}}},
  {"transform":[{"filter":"datum.kind == 'button'"}],
   "mark":{"type":"text","color":"#ffffff","fontSize":13,"align":"center","baseline":"middle","font":"Liberation Sans","dy":1},
   "encoding":{
    "x":{"datum":0.5,"type":"quantitative","scale":{"domain":[0,1],"range":[1671,1861]},"axis":null},
    "y":{"field":"row","type":"ordinal","scale":{"domain":[0,1,2,3,4,5,6,7,8,9,10,11,12],"range":[11,252],"paddingInner":0.08,"paddingOuter":0.04},"axis":null},
    "text":{"field":"label"}}},
  {"transform":[{"filter":"datum.kind != 'button'"}],
   "mark":{"type":"text","align":"left","baseline":"middle","font":"Liberation Sans","dy":1},
   "encoding":{
    "x":{"datum":0,"type":"quantitative","scale":{"domain":[0,1],"range":[1671,1861]},"axis":null},
    "y":{"field":"row","type":"ordinal","scale":{"domain":[0,1,2,3,4,5,6,7,8,9,10,11,12],"range":[11,252],"paddingInner":0.08,"paddingOuter":0.04},"axis":null},
    "text":{"field":"label"},
    "color":{"condition":{"test":"datum.kind == 'symbol'","value":"#4682b4"},"value":"#555555"},
    "size":{"condition":{"test":"datum.kind == 'symbol'","value":16},"value":12}}},
  {"transform":[{"filter":"datum.kind != 'button'"}],
   "mark":{"type":"text","align":"right","baseline":"middle","font":"Liberation Sans","fontSize":16,"dy":1},
   "encoding":{
    "x":{"datum":1,"type":"quantitative","scale":{"domain":[0,1],"range":[1671,1861]},"axis":null},
    "y":{"field":"row","type":"ordinal","scale":{"domain":[0,1,2,3,4,5,6,7,8,9,10,11,12],"range":[11,252],"paddingInner":0.08,"paddingOuter":0.04},"axis":null},
    "text":{"field":"value"},
    "color":{"condition":{"test":"datum.kind == 'neg'","value":"#db7093"},"value":"#3cb371"}}}
 ]}
],
"resolve":{"scale":{"x":"independent","y":"independent"}}
}
